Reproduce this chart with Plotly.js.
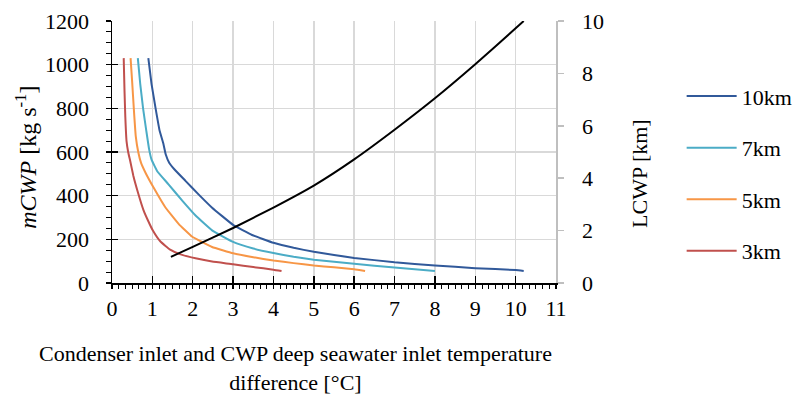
<!DOCTYPE html>
<html><head><meta charset="utf-8">
<script src="https://cdn.plot.ly/plotly-3.0.1.min.js"></script>
<style>html,body{margin:0;padding:0;background:#fff}#chart{width:798px;height:398px}</style>
</head><body><div id="chart"></div>
<script>
// Temperature difference [°C] and mass flow [kg/s] per pipe length
const x10km = [0.90, 0.98, 1.08, 1.18, 1.27, 1.33, 1.42, 1.55, 1.82, 2.15, 2.48, 3.00, 3.47, 4.00, 4.50, 5.00, 6.00, 7.00, 8.00, 9.00, 10.00, 10.20];
const m10km = [1030, 911, 800, 697, 640, 590, 550, 520, 468, 405, 345, 266, 220, 184, 161, 143, 115, 95, 80, 68, 59, 55];
const x7km = [0.64, 0.70, 0.77, 0.85, 0.92, 0.98, 1.12, 1.40, 1.74, 2.07, 2.48, 3.00, 3.50, 4.00, 4.50, 5.00, 6.00, 7.00, 8.00];
const m7km = [1030, 911, 800, 697, 612, 565, 512, 452, 377, 309, 241, 188, 158, 137, 120, 107, 88, 71, 55];
const x5km = [0.46, 0.50, 0.54, 0.59, 0.65, 0.72, 0.83, 1.03, 1.32, 1.65, 1.98, 2.48, 3.00, 3.50, 4.00, 4.50, 5.00, 5.50, 6.00, 6.27];
const m5km = [1030, 920, 800, 670, 600, 550, 505, 437, 347, 271, 213, 165, 136, 118, 103, 91, 80, 72, 63, 55];
const x3km = [0.29, 0.31, 0.33, 0.36, 0.40, 0.45, 0.53, 0.65, 0.78, 0.90, 1.02, 1.20, 1.44, 1.70, 2.07, 2.48, 3.00, 3.50, 4.00, 4.20];
const m3km = [1030, 880, 760, 650, 600, 560, 490, 410, 334, 283, 238, 190, 153, 131, 113, 98, 86, 73, 61, 55];
// Pipe length LCWP [km] vs temperature difference
const lcwpX = [1.46, 2.00, 3.00, 4.00, 5.00, 6.00, 7.00, 8.00, 9.00, 10.00, 10.20];
const lcwpKm = [1.00, 1.38, 2.10, 2.88, 3.72, 4.72, 5.85, 7.05, 8.35, 9.72, 10.00];
const seriesNames = ['10km', '7km', '5km', '3km'];
const seriesColors = ['#31599a', '#4bacc6', '#f79646', '#c0504d'];

const xs = [x10km, x7km, x5km, x3km];
const ms = [m10km, m7km, m5km, m3km];

const traces = seriesNames.map((n, i) => ({
  type: 'scatter', mode: 'lines', name: n, legendgroup: n,
  x: xs[i], y: ms[i],
  line: {color: seriesColors[i], width: 2, shape: 'spline', smoothing: 0.3},
  xaxis: 'x', yaxis: 'y', hoverinfo: 'skip'
}));
traces.push({
  type: 'scatter', mode: 'lines', name: 'LCWP', showlegend: false,
  x: lcwpX, y: lcwpKm, xaxis: 'x', yaxis: 'y2',
  line: {color: '#000', width: 2, shape: 'spline', smoothing: 0.5}, hoverinfo: 'skip'
});
// helper (empty) trace so the crossing inner-tick axes get drawn
traces.push({type: 'scatter', mode: 'lines', x: [null], y: [null], xaxis: 'x2', yaxis: 'y3', showlegend: false, hoverinfo: 'skip'});

const F = '"Liberation Serif", "Times New Roman", Times, serif';
const layout = {
  width: 798, height: 398,
  margin: {l: 112, r: 242, t: 21, b: 115, pad: 0, autoexpand: false},
  paper_bgcolor: '#fff', plot_bgcolor: '#fff',
  font: {family: F, size: 22, color: '#000'},
  showlegend: true,
  legend: {x: 1.283, y: 0.793, xanchor: 'left', yanchor: 'top', tracegroupgap: 20,
    font: {family: F, size: 22, color: '#000'}, bgcolor: 'rgba(0,0,0,0)', itemwidth: 50},
  xaxis: {range: [0, 11], autorange: false, tick0: 0, dtick: 1, showgrid: true, gridcolor: '#d9d9d9', gridwidth: 1.5,
    showline: true, linecolor: '#000', linewidth: 1.5, ticks: 'outside', ticklen: 4, tickwidth: 1.5, tickcolor: '#000',
    minor: {ticks: 'outside', ticklen: 4, tick0: 0, dtick: 1/6, tickcolor: '#000', tickwidth: 1, showgrid: false},
    zeroline: false, ticklabelstandoff: 1, fixedrange: true, automargin: false},
  yaxis: {range: [0, 1200], autorange: false, tick0: 0, dtick: 200, showgrid: true, gridcolor: '#d9d9d9', gridwidth: 1.5,
    showline: true, linecolor: '#000', linewidth: 1.5, ticks: 'outside', ticklen: 5, tickwidth: 1.5, tickcolor: '#000',
    minor: {ticks: 'outside', ticklen: 5, tick0: 0, dtick: 50, tickcolor: '#000', tickwidth: 1, showgrid: false},
    zeroline: false, ticklabelstandoff: 12, fixedrange: true, automargin: false},
  yaxis2: {overlaying: 'y', side: 'right', anchor: 'x', range: [0, 10], autorange: false, tick0: 0, dtick: 2,
    showgrid: false, showline: true, linecolor: '#bfbfbf', linewidth: 1.5, ticks: 'outside', ticklen: 6, tickwidth: 1.5,
    tickcolor: '#bfbfbf', zeroline: false, ticklabelstandoff: 14, fixedrange: true, automargin: false},
  xaxis2: {overlaying: 'x', anchor: 'y', side: 'bottom', range: [0, 11], autorange: false, tick0: 0, dtick: 1,
    ticks: 'inside', ticklen: 7, tickwidth: 1.5, tickcolor: '#000', showticklabels: false, showgrid: false,
    showline: false, zeroline: false, fixedrange: true, automargin: false},
  yaxis3: {overlaying: 'y', anchor: 'x', side: 'left', range: [0, 1200], autorange: false, tick0: 0, dtick: 200,
    ticks: 'inside', ticklen: 6, tickwidth: 1.5, tickcolor: '#000', showticklabels: false, showgrid: false,
    showline: false, zeroline: false, fixedrange: true, automargin: false},
  annotations: [
    {text: 'Condenser inlet and CWP deep seawater inlet temperature<br>difference [°C]', xref: 'paper', yref: 'paper',
     x: 0.414, y: -0.326, xanchor: 'center', yanchor: 'middle', showarrow: false, font: {family: F, size: 22, color: '#000'}},
    {text: '<i>mCWP</i> [kg s<sup>-1</sup>]', xref: 'paper', yref: 'paper', textangle: -90,
     x: -0.194, y: 0.481, xanchor: 'center', yanchor: 'middle', showarrow: false, font: {family: F, size: 24, color: '#000'}},
    {text: 'LCWP [km]', xref: 'paper', yref: 'paper', textangle: -90,
     x: 1.189, y: 0.42, xanchor: 'center', yanchor: 'middle', showarrow: false, font: {family: F, size: 22, color: '#000'}}
  ]
};
Plotly.newPlot('chart', traces, layout, {staticPlot: true, displayModeBar: false});
</script>
</body></html>
